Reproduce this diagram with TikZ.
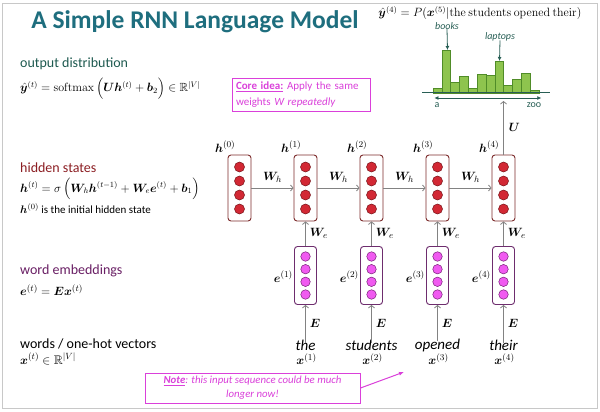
\documentclass[tikz,border=0pt]{standalone}
\usepackage{amsmath,amssymb,bm}
\usepackage[no-math]{fontspec}
\setmainfont{Carlito}
\usetikzlibrary{arrows.meta}
\definecolor{titlec}{RGB}{30,110,126}
\definecolor{outc}{RGB}{30,90,80}
\definecolor{hidc}{RGB}{140,30,35}
\definecolor{embc}{RGB}{105,30,100}
\definecolor{magc}{RGB}{218,64,218}
\definecolor{hborder}{RGB}{125,45,45}
\definecolor{hdotc}{RGB}{210,40,52}
\definecolor{hdotb}{RGB}{120,20,25}
\definecolor{eborder}{RGB}{110,45,110}
\definecolor{edotc}{RGB}{240,90,240}
\definecolor{edotb}{RGB}{120,30,120}
\definecolor{barc}{RGB}{142,196,78}
\definecolor{barb}{RGB}{80,140,40}
\definecolor{arrc}{RGB}{130,130,130}
\definecolor{histc}{RGB}{40,95,85}
\definecolor{framec}{RGB}{200,200,200}
\tikzset{
  every node/.style={inner sep=0pt},
  hbox/.style={draw=hborder, line width=0.9pt, rounded corners=3pt, minimum width=23pt, minimum height=66pt},
  ebox/.style={draw=eborder, line width=0.9pt, rounded corners=3pt, minimum width=22pt, minimum height=58pt},
  hdot/.style={circle, draw=hdotb, fill=hdotc, minimum size=10pt, line width=0.5pt},
  edot/.style={circle, draw=edotb, fill=edotc, minimum size=9.5pt, line width=0.5pt},
  conn/.style={draw=arrc, line width=0.8pt, -{Straight Barb[length=2.5pt,width=6pt]}},
  mlab/.style={font=\fontsize{13}{15}\selectfont},
  wordlab/.style={font=\fontsize{15}{17}\selectfont\itshape},
  sect/.style={font=\fontsize{14}{16}\selectfont, anchor=west},
  form/.style={font=\fontsize{12.5}{14}\selectfont, anchor=west},
  bar/.style={draw=barb, fill=barc, line width=0.6pt},
  histarr/.style={draw=histc, line width=0.8pt, -{Latex[length=4pt,width=4pt]}},
  histlab/.style={font=\fontsize{10}{12}\selectfont\itshape, text=histc},
  notebox/.style={draw=magc, line width=1pt, fill=white, align=center, text=magc}
}
\begin{document}
\begin{tikzpicture}[x=1pt,y=-1pt]
\useasboundingbox (0,0) rectangle (600,412);
\fill[white] (0,0) rectangle (600,412);
\draw[framec, line width=0.8pt] (2,3) rectangle (597,408);

% title
\node[font=\fontsize{25.5}{28}\selectfont\bfseries, text=titlec] (title) at (195,22) {A Simple RNN Language Model};

% left column
\node[sect, text=outc] (outlab) at (20,64) {output distribution};
\node[form, font=\fontsize{11.8}{14}\selectfont] (outform) at (20,89) {$\hat{\bm y}^{(t)} = \mathrm{softmax}\,\Bigl(\bm U \bm h^{(t)} + \bm b_2\Bigr) \in \mathbb{R}^{|V|}$};
\node[sect, text=hidc] (hidlab) at (20,168) {hidden states};
\node[form, font=\fontsize{12}{14}\selectfont] (hidform) at (20,189) {$\bm h^{(t)} = \sigma\,\Bigl(\bm W_h \bm h^{(t-1)} + \bm W_e \bm e^{(t)} + \bm b_1\Bigr)$};
\node[form, font=\fontsize{11}{13}\selectfont] (hinit) at (20,209) {$\bm h^{(0)}$ is the initial hidden state};
\node[sect, text=embc] (emblab) at (20,271) {word embeddings};
\node[form] (embform) at (20,290) {$\bm e^{(t)} = \bm E \bm x^{(t)}$};
\node[sect] (wordslab) at (20,344) {words / one-hot vectors};
\node[form] (wordsform) at (20,359) {$\bm x^{(t)} \in \mathbb{R}^{|V|}$};

% core idea box
\node[notebox, line width=0.9pt, minimum width=138pt, minimum height=33pt, text width=130pt, align=left, font=\fontsize{11}{15.5}\selectfont] (core) at (301,94.5)
 {\textbf{\underline{Core idea:}} Apply the same weights \textit{W repeatedly}};

% hidden states
\foreach \i/\x in {0/239.5,1/305.5,2/371.5,3/437.5,4/503.5} {
  \node[hbox] (h\i) at (\x,188) {};
  \foreach \d/\j in {-21/1,-7/2,7/3,21/4} \node[hdot] (hd\i\j) at (\x,188+\d) {};
  \node[mlab, anchor=south east] (hl\i) at ([xshift=8pt,yshift=2pt]h\i.north west) {$\bm h^{(\i)}$};
}
\foreach \a/\b in {0/1,1/2,2/3,3/4} {
  \draw[conn] (h\a.east) -- node[mlab, above=5pt] (wh\a) {$\bm W_h$} (h\b.west);
}

% embeddings and words
\foreach \i/\x/\w in {1/305.5/the,2/371.5/students,3/437.5/opened,4/503.5/their} {
  \node[ebox] (e\i) at (\x,275.5) {};
  \foreach \d/\j in {-19/1,-6.3/2,6.3/3,19/4} \node[edot] (ed\i\j) at (\x,275.5+\d) {};
  \node[mlab, anchor=east] (el\i) at ([xshift=-1pt,yshift=-1pt]e\i.west) {$\bm e^{(\i)}$};
  \node[wordlab] (w\i) at (\x,345) {\w};
  \node[mlab] (x\i) at (\x+1,359) {$\bm x^{(\i)}$};
  \draw[conn] ([yshift=-3pt]w\i.north) -- node[mlab, right=4pt] (E\i) {$\bm E$} (e\i.south);
  \draw[conn] (e\i.north) -- node[mlab, right=4pt] (we\i) {$\bm W_e$} (h\i.south);
}

% note box
\node[notebox, minimum width=215pt, minimum height=30pt, font=\fontsize{10.8}{14}\selectfont\itshape] (note) at (252.5,388)
 {\textbf{\underline{Note}}: this input sequence could be much\\ longer now!};
\coordinate (notetip) at (404,372);
\draw[draw=magc, line width=1pt, -{Latex[length=5pt,width=4pt]}] (note.east) -- (notetip);

% histogram
\node[font=\fontsize{11.5}{14}\selectfont] (yhat4) at (480,13) {$\hat{\bm y}^{(4)} = P(\bm x^{(5)} | \mathrm{the\ students\ opened\ their})$};
\foreach \k/\t in {0/88,1/50,2/82,3/76,4/88,5/74,6/75,7/61,8/85,9/79,10/73,11/90} {
  \draw[bar] (433+\k*8.83,93) rectangle (433+\k*8.83+8.83,\t);
}
\draw[histc, line width=1pt] (422,93) -- (550,93);
\node[font=\fontsize{10}{12}\selectfont, text=histc] (ha) at (437,105) {a};
\node[font=\fontsize{10}{12}\selectfont, text=histc] (hz) at (534,105) {zoo};
\draw[histc, line width=0.9pt, {Latex[length=4pt,width=4pt]}-{Latex[length=4pt,width=4pt]}] (ha.north west |- 0,98) coordinate (hal) -- (hz.north east |- 0,98) coordinate (hzr);
\node[histlab] (books) at (447,26) {books};
\coordinate (booksbar) at (447.5,50);
\draw[histarr] (books.south) ++(0,-1) -- (booksbar);
\node[histlab] (laptops) at (500,37) {laptops};
\coordinate (lapbar) at (499.5,61);
\draw[histarr] (laptops.south) ++(0,-1) -- (lapbar);

% output arrow
\coordinate (histin) at (503.5,101);
\draw[conn] (h4.north) -- node[mlab, right=5pt] (U) {$\bm U$} (histin);
\end{tikzpicture}
\end{document}
